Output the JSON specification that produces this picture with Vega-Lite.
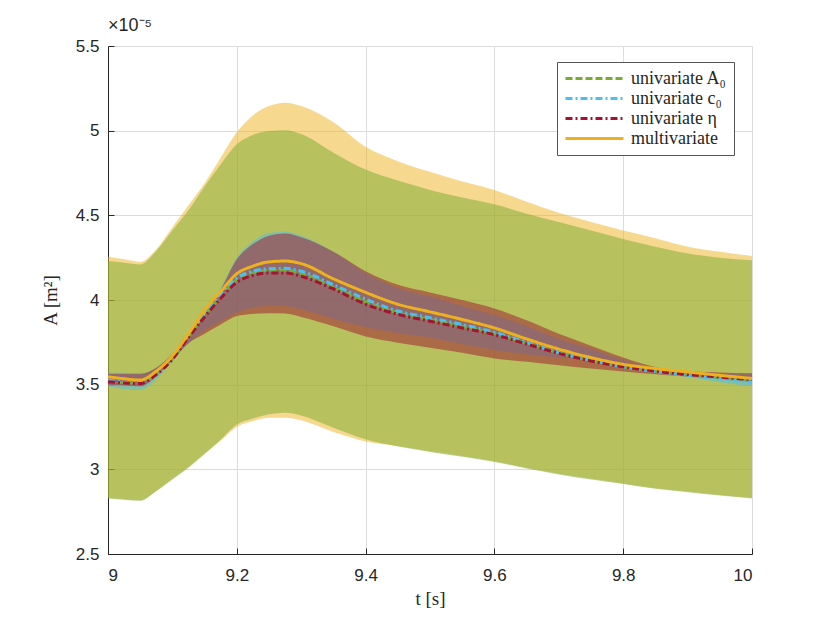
{
  "$schema": "https://vega.github.io/schema/vega-lite/v6.json",
  "autosize": {"type": "none"},
  "width": 644,
  "height": 508,
  "padding": {"left": 108, "top": 46, "right": 78, "bottom": 69},
  "background": "white",
  "title": {"text": "×10⁻⁵", "anchor": "start", "frame": "group", "font": "Liberation Sans", "fontSize": 18, "fontWeight": "normal", "color": "#262626", "offset": 2},
  "config": {
    "view": {"stroke": null},
    "axis": {
      "domainColor": "#262626", "domainWidth": 1, "tickColor": "#262626", "tickSize": -6,
      "labelFont": "Liberation Sans", "labelFontSize": 17, "labelColor": "#262626",
      "titleFont": "Liberation Serif", "titleFontSize": 19, "titleFontWeight": "normal", "titleColor": "#262626",
      "gridColor": "#dcdcdc", "gridWidth": 1
    }
  },
  "datasets": {
    "bands": [
      {"t":9,"band":"multi","lo":2.832,"hi":4.255},{"t":9.025,"band":"multi","lo":2.824,"hi":4.24},{"t":9.05,"band":"multi","lo":2.818,"hi":4.225},{"t":9.075,"band":"multi","lo":2.874,"hi":4.30},{"t":9.1,"band":"multi","lo":2.944,"hi":4.43},{"t":9.125,"band":"multi","lo":3.014,"hi":4.56},{"t":9.15,"band":"multi","lo":3.094,"hi":4.69},{"t":9.175,"band":"multi","lo":3.17,"hi":4.84},{"t":9.2,"band":"multi","lo":3.25,"hi":4.99},{"t":9.225,"band":"multi","lo":3.285,"hi":5.09},{"t":9.25,"band":"multi","lo":3.305,"hi":5.145},{"t":9.275,"band":"multi","lo":3.305,"hi":5.165},{"t":9.3,"band":"multi","lo":3.29,"hi":5.145},{"t":9.35,"band":"multi","lo":3.22,"hi":5.05},{"t":9.4,"band":"multi","lo":3.165,"hi":4.905},{"t":9.45,"band":"multi","lo":3.138,"hi":4.82},{"t":9.5,"band":"multi","lo":3.107,"hi":4.757},{"t":9.55,"band":"multi","lo":3.079,"hi":4.70},{"t":9.6,"band":"multi","lo":3.048,"hi":4.65},{"t":9.65,"band":"multi","lo":3.009,"hi":4.58},{"t":9.7,"band":"multi","lo":2.974,"hi":4.515},{"t":9.75,"band":"multi","lo":2.944,"hi":4.46},{"t":9.8,"band":"multi","lo":2.917,"hi":4.41},{"t":9.85,"band":"multi","lo":2.889,"hi":4.365},{"t":9.9,"band":"multi","lo":2.869,"hi":4.315},{"t":9.95,"band":"multi","lo":2.849,"hi":4.285},{"t":10,"band":"multi","lo":2.832,"hi":4.26},

      {"t":9,"band":"A0","lo":2.828,"hi":4.23},{"t":9.025,"band":"A0","lo":2.82,"hi":4.22},{"t":9.05,"band":"A0","lo":2.814,"hi":4.21},{"t":9.075,"band":"A0","lo":2.87,"hi":4.29},{"t":9.1,"band":"A0","lo":2.94,"hi":4.41},{"t":9.125,"band":"A0","lo":3.01,"hi":4.53},{"t":9.15,"band":"A0","lo":3.09,"hi":4.67},{"t":9.175,"band":"A0","lo":3.175,"hi":4.80},{"t":9.2,"band":"A0","lo":3.265,"hi":4.92},{"t":9.225,"band":"A0","lo":3.30,"hi":4.975},{"t":9.25,"band":"A0","lo":3.325,"hi":4.998},{"t":9.275,"band":"A0","lo":3.334,"hi":5.003},{"t":9.3,"band":"A0","lo":3.318,"hi":4.98},{"t":9.35,"band":"A0","lo":3.245,"hi":4.87},{"t":9.4,"band":"A0","lo":3.177,"hi":4.77},{"t":9.45,"band":"A0","lo":3.135,"hi":4.705},{"t":9.5,"band":"A0","lo":3.103,"hi":4.65},{"t":9.55,"band":"A0","lo":3.075,"hi":4.605},{"t":9.6,"band":"A0","lo":3.044,"hi":4.565},{"t":9.65,"band":"A0","lo":3.005,"hi":4.51},{"t":9.7,"band":"A0","lo":2.97,"hi":4.46},{"t":9.75,"band":"A0","lo":2.94,"hi":4.41},{"t":9.8,"band":"A0","lo":2.913,"hi":4.36},{"t":9.85,"band":"A0","lo":2.885,"hi":4.315},{"t":9.9,"band":"A0","lo":2.865,"hi":4.275},{"t":9.95,"band":"A0","lo":2.845,"hi":4.25},{"t":10,"band":"A0","lo":2.828,"hi":4.235},

      {"t":9,"band":"c0","lo":3.49,"hi":3.57},{"t":9.025,"band":"c0","lo":3.475,"hi":3.57},{"t":9.05,"band":"c0","lo":3.468,"hi":3.565},{"t":9.075,"band":"c0","lo":3.53,"hi":3.60},{"t":9.1,"band":"c0","lo":3.64,"hi":3.685},{"t":9.125,"band":"c0","lo":3.745,"hi":3.78},{"t":9.15,"band":"c0","lo":3.82,"hi":3.915},{"t":9.175,"band":"c0","lo":3.875,"hi":4.07},{"t":9.2,"band":"c0","lo":3.925,"hi":4.25},{"t":9.225,"band":"c0","lo":3.955,"hi":4.345},{"t":9.25,"band":"c0","lo":3.965,"hi":4.395},{"t":9.275,"band":"c0","lo":3.964,"hi":4.405},{"t":9.3,"band":"c0","lo":3.945,"hi":4.38},{"t":9.35,"band":"c0","lo":3.89,"hi":4.285},{"t":9.4,"band":"c0","lo":3.84,"hi":4.16},{"t":9.45,"band":"c0","lo":3.805,"hi":4.07},{"t":9.5,"band":"c0","lo":3.778,"hi":4.02},{"t":9.55,"band":"c0","lo":3.74,"hi":3.965},{"t":9.6,"band":"c0","lo":3.705,"hi":3.91},{"t":9.65,"band":"c0","lo":3.68,"hi":3.845},{"t":9.7,"band":"c0","lo":3.66,"hi":3.77},{"t":9.75,"band":"c0","lo":3.643,"hi":3.71},{"t":9.8,"band":"c0","lo":3.61,"hi":3.645},{"t":9.85,"band":"c0","lo":3.575,"hi":3.60},{"t":9.9,"band":"c0","lo":3.545,"hi":3.575},{"t":9.95,"band":"c0","lo":3.515,"hi":3.568},{"t":10,"band":"c0","lo":3.49,"hi":3.565},

      {"t":9,"band":"eta","lo":3.50,"hi":3.565},{"t":9.025,"band":"eta","lo":3.495,"hi":3.565},{"t":9.05,"band":"eta","lo":3.49,"hi":3.565},{"t":9.075,"band":"eta","lo":3.55,"hi":3.60},{"t":9.1,"band":"eta","lo":3.645,"hi":3.68},{"t":9.125,"band":"eta","lo":3.745,"hi":3.78},{"t":9.15,"band":"eta","lo":3.80,"hi":3.91},{"t":9.175,"band":"eta","lo":3.855,"hi":4.06},{"t":9.2,"band":"eta","lo":3.905,"hi":4.24},{"t":9.225,"band":"eta","lo":3.918,"hi":4.33},{"t":9.25,"band":"eta","lo":3.922,"hi":4.38},{"t":9.275,"band":"eta","lo":3.92,"hi":4.392},{"t":9.3,"band":"eta","lo":3.90,"hi":4.37},{"t":9.35,"band":"eta","lo":3.845,"hi":4.285},{"t":9.4,"band":"eta","lo":3.785,"hi":4.17},{"t":9.45,"band":"eta","lo":3.748,"hi":4.09},{"t":9.5,"band":"eta","lo":3.718,"hi":4.045},{"t":9.55,"band":"eta","lo":3.688,"hi":4.00},{"t":9.6,"band":"eta","lo":3.655,"hi":3.95},{"t":9.65,"band":"eta","lo":3.635,"hi":3.88},{"t":9.7,"band":"eta","lo":3.615,"hi":3.80},{"t":9.75,"band":"eta","lo":3.595,"hi":3.73},{"t":9.8,"band":"eta","lo":3.578,"hi":3.66},{"t":9.85,"band":"eta","lo":3.562,"hi":3.605},{"t":9.9,"band":"eta","lo":3.548,"hi":3.58},{"t":9.95,"band":"eta","lo":3.535,"hi":3.572},{"t":10,"band":"eta","lo":3.52,"hi":3.567}
    ],
    "lines": [
      {"t":9,"series":"univariate A₀","A":3.522},{"t":9.025,"series":"univariate A₀","A":3.512},{"t":9.05,"series":"univariate A₀","A":3.51},{"t":9.075,"series":"univariate A₀","A":3.562},{"t":9.1,"series":"univariate A₀","A":3.655},{"t":9.125,"series":"univariate A₀","A":3.785},{"t":9.15,"series":"univariate A₀","A":3.91},{"t":9.175,"series":"univariate A₀","A":4.02},{"t":9.2,"series":"univariate A₀","A":4.12},{"t":9.225,"series":"univariate A₀","A":4.16},{"t":9.25,"series":"univariate A₀","A":4.175},{"t":9.275,"series":"univariate A₀","A":4.176},{"t":9.3,"series":"univariate A₀","A":4.157},{"t":9.35,"series":"univariate A₀","A":4.077},{"t":9.4,"series":"univariate A₀","A":3.99},{"t":9.45,"series":"univariate A₀","A":3.925},{"t":9.5,"series":"univariate A₀","A":3.885},{"t":9.55,"series":"univariate A₀","A":3.845},{"t":9.6,"series":"univariate A₀","A":3.803},{"t":9.65,"series":"univariate A₀","A":3.745},{"t":9.7,"series":"univariate A₀","A":3.688},{"t":9.75,"series":"univariate A₀","A":3.643},{"t":9.8,"series":"univariate A₀","A":3.605},{"t":9.85,"series":"univariate A₀","A":3.579},{"t":9.9,"series":"univariate A₀","A":3.558},{"t":9.95,"series":"univariate A₀","A":3.54},{"t":10,"series":"univariate A₀","A":3.523},

      {"t":9,"series":"univariate c₀","A":3.527},{"t":9.025,"series":"univariate c₀","A":3.515},{"t":9.05,"series":"univariate c₀","A":3.512},{"t":9.075,"series":"univariate c₀","A":3.565},{"t":9.1,"series":"univariate c₀","A":3.66},{"t":9.125,"series":"univariate c₀","A":3.79},{"t":9.15,"series":"univariate c₀","A":3.92},{"t":9.175,"series":"univariate c₀","A":4.03},{"t":9.2,"series":"univariate c₀","A":4.13},{"t":9.225,"series":"univariate c₀","A":4.17},{"t":9.25,"series":"univariate c₀","A":4.185},{"t":9.275,"series":"univariate c₀","A":4.187},{"t":9.3,"series":"univariate c₀","A":4.17},{"t":9.35,"series":"univariate c₀","A":4.09},{"t":9.4,"series":"univariate c₀","A":4.005},{"t":9.45,"series":"univariate c₀","A":3.935},{"t":9.5,"series":"univariate c₀","A":3.895},{"t":9.55,"series":"univariate c₀","A":3.855},{"t":9.6,"series":"univariate c₀","A":3.81},{"t":9.65,"series":"univariate c₀","A":3.75},{"t":9.7,"series":"univariate c₀","A":3.69},{"t":9.75,"series":"univariate c₀","A":3.645},{"t":9.8,"series":"univariate c₀","A":3.605},{"t":9.85,"series":"univariate c₀","A":3.578},{"t":9.9,"series":"univariate c₀","A":3.555},{"t":9.95,"series":"univariate c₀","A":3.535},{"t":10,"series":"univariate c₀","A":3.515},

      {"t":9,"series":"univariate η","A":3.517},{"t":9.025,"series":"univariate η","A":3.51},{"t":9.05,"series":"univariate η","A":3.507},{"t":9.075,"series":"univariate η","A":3.56},{"t":9.1,"series":"univariate η","A":3.65},{"t":9.125,"series":"univariate η","A":3.78},{"t":9.15,"series":"univariate η","A":3.90},{"t":9.175,"series":"univariate η","A":4.01},{"t":9.2,"series":"univariate η","A":4.105},{"t":9.225,"series":"univariate η","A":4.145},{"t":9.25,"series":"univariate η","A":4.16},{"t":9.275,"series":"univariate η","A":4.16},{"t":9.3,"series":"univariate η","A":4.14},{"t":9.35,"series":"univariate η","A":4.065},{"t":9.4,"series":"univariate η","A":3.975},{"t":9.45,"series":"univariate η","A":3.915},{"t":9.5,"series":"univariate η","A":3.875},{"t":9.55,"series":"univariate η","A":3.835},{"t":9.6,"series":"univariate η","A":3.795},{"t":9.65,"series":"univariate η","A":3.74},{"t":9.7,"series":"univariate η","A":3.685},{"t":9.75,"series":"univariate η","A":3.64},{"t":9.8,"series":"univariate η","A":3.605},{"t":9.85,"series":"univariate η","A":3.58},{"t":9.9,"series":"univariate η","A":3.56},{"t":9.95,"series":"univariate η","A":3.545},{"t":10,"series":"univariate η","A":3.53},

      {"t":9,"series":"multivariate","A":3.547},{"t":9.025,"series":"multivariate","A":3.535},{"t":9.05,"series":"multivariate","A":3.527},{"t":9.075,"series":"multivariate","A":3.58},{"t":9.1,"series":"multivariate","A":3.67},{"t":9.125,"series":"multivariate","A":3.80},{"t":9.15,"series":"multivariate","A":3.94},{"t":9.175,"series":"multivariate","A":4.05},{"t":9.2,"series":"multivariate","A":4.155},{"t":9.225,"series":"multivariate","A":4.20},{"t":9.25,"series":"multivariate","A":4.225},{"t":9.275,"series":"multivariate","A":4.23},{"t":9.3,"series":"multivariate","A":4.215},{"t":9.35,"series":"multivariate","A":4.125},{"t":9.4,"series":"multivariate","A":4.045},{"t":9.45,"series":"multivariate","A":3.975},{"t":9.5,"series":"multivariate","A":3.93},{"t":9.55,"series":"multivariate","A":3.885},{"t":9.6,"series":"multivariate","A":3.835},{"t":9.65,"series":"multivariate","A":3.77},{"t":9.7,"series":"multivariate","A":3.71},{"t":9.75,"series":"multivariate","A":3.66},{"t":9.8,"series":"multivariate","A":3.62},{"t":9.85,"series":"multivariate","A":3.595},{"t":9.9,"series":"multivariate","A":3.575},{"t":9.95,"series":"multivariate","A":3.555},{"t":10,"series":"multivariate","A":3.537}
    ]
  },
  "encoding": {
    "x": {"field": "t", "type": "quantitative", "scale": {"domain": [9, 10], "nice": false},
          "axis": {"title": "t [s]", "values": [9, 9.2, 9.4, 9.6, 9.8, 10], "format": "~g", "labelPadding": 19, "titlePadding": 6, "grid": true}}
  },
  "layer": [
    {"data": {"name": "bands"}, "transform": [{"filter": "datum.band == 'multi'"}],
     "mark": {"type": "area", "color": "#EDB120", "opacity": 0.5, "interpolate": "monotone"},
     "encoding": {
       "y": {"field": "hi", "type": "quantitative", "scale": {"domain": [2.5, 5.5], "nice": false},
             "axis": {"title": "A [m²]", "values": [2.5, 3, 3.5, 4, 4.5, 5, 5.5], "format": "~g", "labelPadding": 15, "titlePadding": 15, "grid": true}},
       "y2": {"field": "lo"}}},
    {"data": {"name": "bands"}, "transform": [{"filter": "datum.band == 'A0'"}],
     "mark": {"type": "area", "color": "#77AC30", "opacity": 0.5, "interpolate": "monotone"},
     "encoding": {"y": {"field": "hi", "type": "quantitative"}, "y2": {"field": "lo"}}},
    {"data": {"name": "bands"}, "transform": [{"filter": "datum.band == 'c0'"}],
     "mark": {"type": "area", "color": "#4DBEEE", "opacity": 0.5, "interpolate": "monotone"},
     "encoding": {"y": {"field": "hi", "type": "quantitative"}, "y2": {"field": "lo"}}},
    {"data": {"name": "bands"}, "transform": [{"filter": "datum.band == 'eta'"}],
     "mark": {"type": "area", "color": "#A2142F", "opacity": 0.5, "interpolate": "monotone"},
     "encoding": {"y": {"field": "hi", "type": "quantitative"}, "y2": {"field": "lo"}}},
    {"data": {"name": "lines"},
     "mark": {"type": "line", "strokeWidth": 3, "interpolate": "monotone"},
     "encoding": {
       "y": {"field": "A", "type": "quantitative"},
       "color": {"field": "series", "type": "nominal",
                 "scale": {"domain": ["univariate A₀", "univariate c₀", "univariate η", "multivariate"], "range": ["#77AC30", "#4DBEEE", "#A2142F", "#EDB120"]},
                 "legend": {"title": null, "orient": "none", "legendX": 449, "legendY": 16, "symbolType": "stroke", "symbolSize": 3364, "symbolStrokeWidth": 3,
                            "labelFont": "Liberation Serif", "labelFontSize": 18, "labelColor": "#262626", "labelOffset": 6, "rowPadding": 1, "padding": 7, "clipHeight": 19,
                            "strokeColor": "#555555", "fillColor": "white"}},
       "strokeDash": {"field": "series", "type": "nominal",
                      "scale": {"domain": ["univariate A₀", "univariate c₀", "univariate η", "multivariate"], "range": [[7, 3], [7, 3, 2, 3], [7, 3, 2, 3], [1, 0]]}}
     }}
  ]
}
